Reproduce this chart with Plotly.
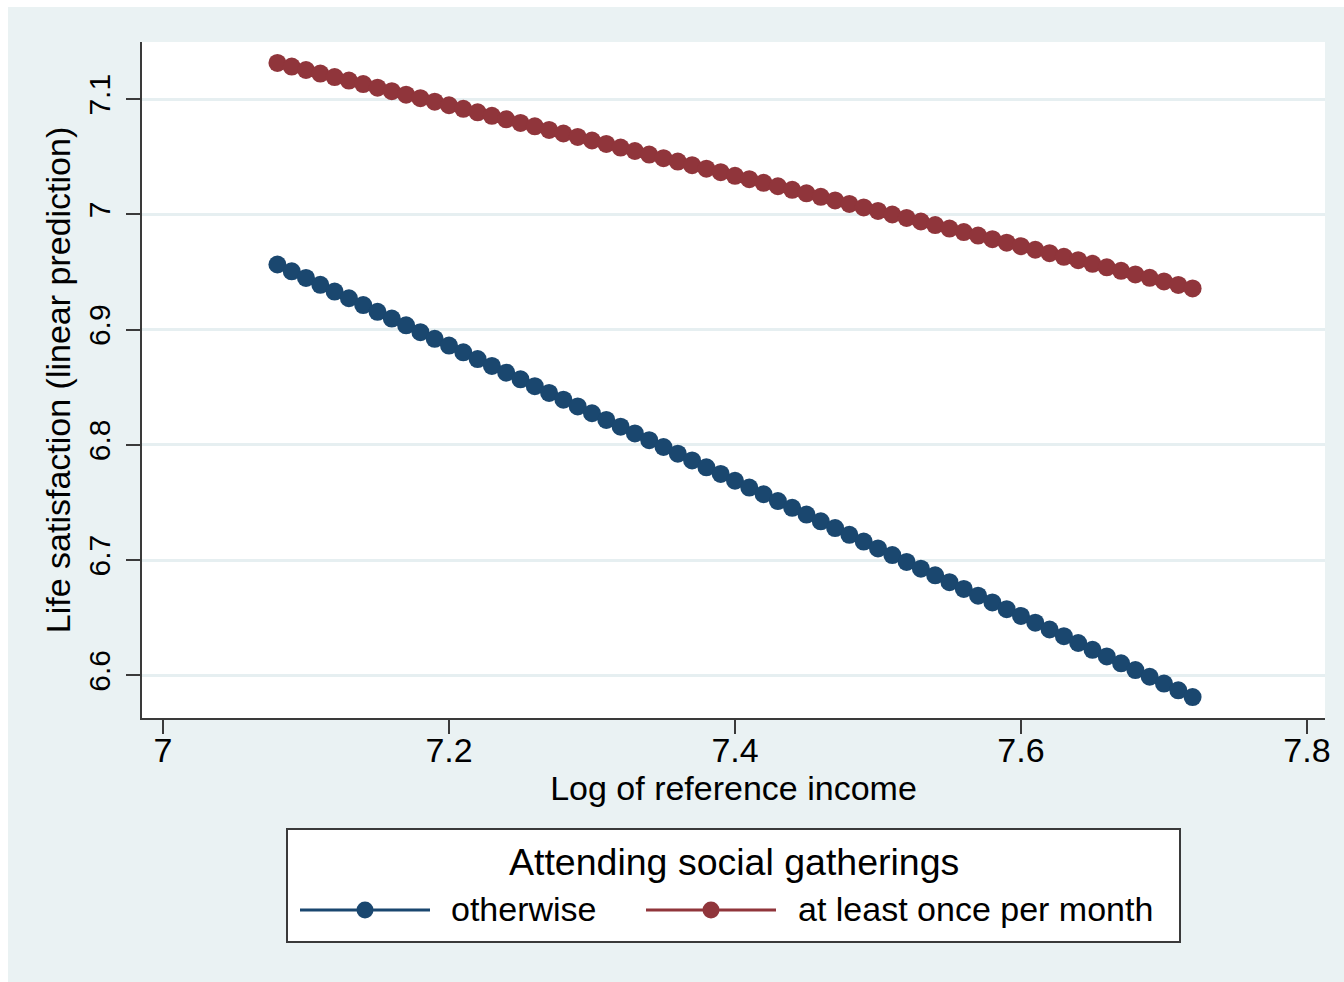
import plotly.graph_objects as go

# Log of reference income (prediction grid)
log_ref_income = [
    7.08, 7.09, 7.10, 7.11, 7.12, 7.13, 7.14, 7.15, 7.16, 7.17,
    7.18, 7.19, 7.20, 7.21, 7.22, 7.23, 7.24, 7.25, 7.26, 7.27,
    7.28, 7.29, 7.30, 7.31, 7.32, 7.33, 7.34, 7.35, 7.36, 7.37,
    7.38, 7.39, 7.40, 7.41, 7.42, 7.43, 7.44, 7.45, 7.46, 7.47,
    7.48, 7.49, 7.50, 7.51, 7.52, 7.53, 7.54, 7.55, 7.56, 7.57,
    7.58, 7.59, 7.60, 7.61, 7.62, 7.63, 7.64, 7.65, 7.66, 7.67,
    7.68, 7.69, 7.70, 7.71, 7.72,
]

# Predicted life satisfaction: does not attend social gatherings monthly
pred_otherwise = [
    6.9566, 6.9507, 6.9449, 6.9390, 6.9331, 6.9273, 6.9214, 6.9155, 6.9097, 6.9038,
    6.8979, 6.8921, 6.8862, 6.8804, 6.8745, 6.8686, 6.8627, 6.8569, 6.8510, 6.8451,
    6.8393, 6.8334, 6.8275, 6.8217, 6.8158, 6.8100, 6.8041, 6.7982, 6.7924, 6.7865,
    6.7806, 6.7748, 6.7689, 6.7630, 6.7572, 6.7513, 6.7454, 6.7396, 6.7337, 6.7278,
    6.7220, 6.7161, 6.7102, 6.7044, 6.6985, 6.6926, 6.6868, 6.6809, 6.6750, 6.6692,
    6.6633, 6.6574, 6.6516, 6.6457, 6.6398, 6.6340, 6.6281, 6.6222, 6.6164, 6.6105,
    6.6046, 6.5988, 6.5929, 6.5870, 6.5812,
]

# Predicted life satisfaction: attends at least once per month
pred_monthly = [
    7.1315, 7.1284, 7.1254, 7.1223, 7.1193, 7.1162, 7.1132, 7.1101, 7.1070, 7.1040,
    7.1009, 7.0979, 7.0948, 7.0917, 7.0887, 7.0856, 7.0826, 7.0795, 7.0765, 7.0734,
    7.0703, 7.0673, 7.0642, 7.0612, 7.0581, 7.0551, 7.0520, 7.0489, 7.0459, 7.0428,
    7.0398, 7.0367, 7.0336, 7.0306, 7.0275, 7.0245, 7.0214, 7.0184, 7.0153, 7.0122,
    7.0092, 7.0061, 7.0031, 7.0000, 6.9970, 6.9939, 6.9908, 6.9878, 6.9847, 6.9817,
    6.9786, 6.9755, 6.9725, 6.9694, 6.9664, 6.9633, 6.9603, 6.9572, 6.9541, 6.9511,
    6.9480, 6.9450, 6.9419, 6.9389, 6.9358,
]

series_names = ["otherwise", "at least once per month"]
legend_title = "Attending social gatherings"

x_tickvals = [7.0, 7.2, 7.4, 7.6, 7.8]
x_ticktext = ["7", "7.2", "7.4", "7.6", "7.8"]
y_tickvals = [6.6, 6.7, 6.8, 6.9, 7.0, 7.1]
y_ticktext = ["6.6", "6.7", "6.8", "6.9", "7", "7.1"]

NAVY = "#1A476F"
MAROON = "#90353B"
BG = "#EAF2F3"
AXIS = "#3a3a3a"
FONT = "Liberation Sans, Arial, sans-serif"

W, H = 1344, 982
L, R, T, B = 142, 19, 42, 264
PW, PH = W - L - R, H - T - B


def px(xp):
    return (xp - L) / PW


def py(yp):
    return (H - B - yp) / PH


fig = go.Figure()
for yvals, color, name in [(pred_otherwise, NAVY, series_names[0]),
                           (pred_monthly, MAROON, series_names[1])]:
    fig.add_trace(go.Scatter(
        x=log_ref_income, y=yvals, name=name, mode="lines+markers",
        line=dict(color=color, width=3),
        marker=dict(color=color, size=18, line=dict(width=0)),
        showlegend=False,
    ))

shapes = [
    # outer graph region
    dict(type="rect", xref="paper", yref="paper", layer="below",
         x0=px(8), x1=px(W + 2), y0=py(H + 2), y1=py(7),
         fillcolor=BG, line=dict(width=0)),
    # plot region
    dict(type="rect", xref="paper", yref="paper", layer="below",
         x0=0, x1=1, y0=0, y1=1, fillcolor="white", line=dict(width=0)),
    # legend frame
    dict(type="rect", xref="paper", yref="paper",
         x0=px(287), x1=px(1180), y0=py(942), y1=py(829),
         fillcolor="white", line=dict(color=AXIS, width=2)),
]

annotations = [
    dict(text=legend_title, xref="paper", yref="paper", x=px(733.5), y=py(862),
         xanchor="center", yanchor="middle", showarrow=False,
         font=dict(size=37.5, color="black", family=FONT)),
]

legend_items = [
    (300, 430, 365, 449, NAVY, series_names[0]),
    (646, 776, 711, 796, MAROON, series_names[1]),
]
for lx0, lx1, mx, tx, color, name in legend_items:
    shapes.append(dict(type="line", xref="paper", yref="paper",
                       x0=px(lx0), x1=px(lx1), y0=py(910), y1=py(910),
                       line=dict(color=color, width=3)))
    shapes.append(dict(type="circle", xref="paper", yref="paper",
                       xsizemode="pixel", ysizemode="pixel",
                       xanchor=px(mx), yanchor=py(910),
                       x0=-8.5, x1=8.5, y0=-8.5, y1=8.5,
                       fillcolor=color, line=dict(width=0)))
    annotations.append(dict(text=name, xref="paper", yref="paper",
                            x=px(tx), y=py(909), xanchor="left", yanchor="middle",
                            showarrow=False,
                            font=dict(size=34, color="black", family=FONT)))

fig.update_layout(
    width=W, height=H,
    margin=dict(l=L, r=R, t=T, b=B, pad=0),
    paper_bgcolor="white",
    plot_bgcolor="rgba(0,0,0,0)",
    font=dict(family=FONT, color="black"),
    shapes=shapes,
    annotations=annotations,
    showlegend=False,
    xaxis=dict(
        range=[6.9853, 7.8126], tickvals=x_tickvals, ticktext=x_ticktext,
        showgrid=False, zeroline=False,
        showline=True, linecolor=AXIS, linewidth=2,
        ticks="outside", ticklen=14, tickwidth=2, tickcolor=AXIS,
        ticklabelstandoff=-13,
        tickfont=dict(size=34, color="black", family=FONT),
        title=dict(text="Log of reference income", standoff=8,
                   font=dict(size=34, color="black", family=FONT)),
    ),
    yaxis=dict(
        range=[6.563, 7.1497], tickvals=y_tickvals, ticktext=y_ticktext,
        showgrid=True, gridcolor="#E6EFF1", gridwidth=2.5, zeroline=False,
        showline=True, linecolor=AXIS, linewidth=2,
        ticks="outside", ticklen=14, tickwidth=2, tickcolor=AXIS,
        tickangle=-90, ticklabelstandoff=4,
        tickfont=dict(size=30, color="black", family=FONT),
        title=dict(text="Life satisfaction (linear prediction)", standoff=2,
                   font=dict(size=34, color="black", family=FONT)),
    ),
)

fig.write_html("out.html")
